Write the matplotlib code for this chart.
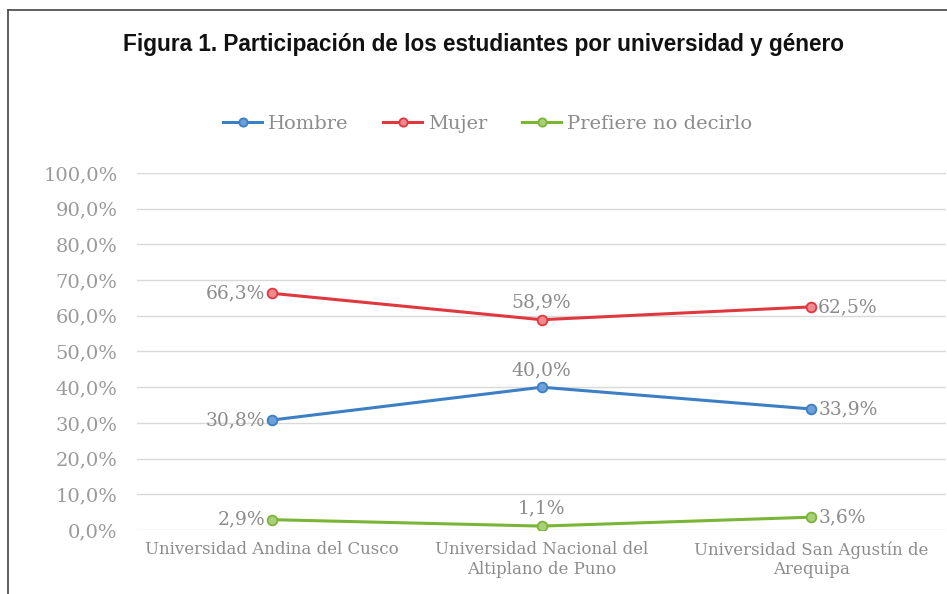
import matplotlib
matplotlib.use("Agg")
import matplotlib.pyplot as plt
from matplotlib.lines import Line2D

categories = ["Universidad Andina del Cusco", "Universidad Nacional del\nAltiplano de Puno", "Universidad San Agustín de\nArequipa"]
hombre = [30.8, 40.0, 33.9]
mujer = [66.3, 58.9, 62.5]
prefiere = [2.9, 1.1, 3.6]
series_names = ["Hombre", "Mujer", "Prefiere no decirlo"]
yticks = [0, 10, 20, 30, 40, 50, 60, 70, 80, 90, 100]

colors = ["#3b7fc4", "#e0383f", "#7ab536"]
fills = ["#6f9fd8", "#f08a8e", "#a9cf7a"]
label_pos = ["left", "above", "right"]

fig = plt.figure(figsize=(9.47, 5.94), dpi=100)
ax = fig.add_axes([0.1447, 0.1077, 0.8543, 0.6011])

grey = "#8c8c8c"
serif = "DejaVu Serif"
x = list(range(len(categories)))
for vals, c, f, name in zip([hombre, mujer, prefiere], colors, fills, series_names):
    ax.plot(x, vals, color=c, lw=2.2, marker="o", ms=7, mfc=f, mec=c, mew=1.3, label=name, zorder=3)
    for xi, v, pos in zip(x, vals, label_pos):
        txt = f"{v:.1f}%".replace(".", ",")
        if pos == "left":
            ax.annotate(txt, (xi, v), xytext=(-5, 0), textcoords="offset points", ha="right", va="center",
                        color=grey, fontsize=13.5, family=serif)
        elif pos == "right":
            ax.annotate(txt, (xi, v), xytext=(5, 0), textcoords="offset points", ha="left", va="center",
                        color=grey, fontsize=13.5, family=serif)
        else:
            ax.annotate(txt, (xi, v), xytext=(0, 6), textcoords="offset points", ha="center", va="bottom",
                        color=grey, fontsize=13.5, family=serif)

ax.set_xlim(-0.5, 2.5)
ax.set_ylim(0, 100)
ax.set_yticks(yticks)
ax.set_yticklabels([f"{t:.1f}%".replace(".", ",") for t in yticks], family=serif, color="#9a9a9a", fontsize=14)
ax.set_xticks(x)
ax.set_xticklabels(categories, family=serif, color=grey, fontsize=12)
ax.tick_params(axis="both", length=0)
ax.tick_params(axis="y", pad=14)
ax.tick_params(axis="x", pad=8)
ax.grid(axis="y", color="#d9d9d9", lw=1)
ax.set_axisbelow(True)
for s in ax.spines.values():
    s.set_visible(False)

fig.text(0.511, 0.925, "Figura 1. Participación de los estudiantes por universidad y género",
         ha="center", va="center", fontsize=16.3, fontweight="bold", family="Liberation Sans", color="#111111")

leg = fig.legend(handles=ax.get_lines(), labels=series_names, loc="center", bbox_to_anchor=(0.515, 0.791),
                 ncol=3, frameon=False, prop={"family": serif, "size": 14}, handlelength=2.0,
                 columnspacing=1.8, handletextpad=0.3, markerscale=0.85)
for t in leg.get_texts():
    t.set_color(grey)

# figure border lines (top and left)
fig.add_artist(Line2D([8/947, 1], [1-10/594, 1-10/594], color="#444444", lw=1.2, transform=fig.transFigure))
fig.add_artist(Line2D([8/947, 8/947], [0, 1-10/594], color="#444444", lw=1.2, transform=fig.transFigure))

fig.savefig("out.png", dpi=100)
